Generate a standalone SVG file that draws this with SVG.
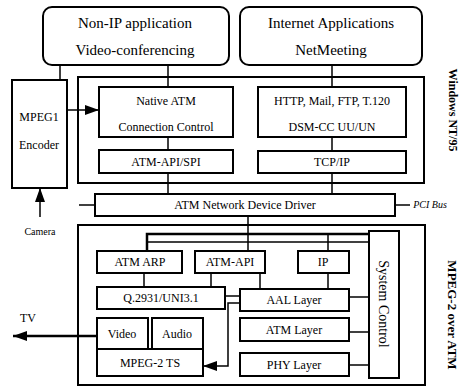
<svg xmlns="http://www.w3.org/2000/svg" width="463" height="388" viewBox="0 0 463 388">
<defs>
<style>
.box{fill:#fff;stroke:#000;stroke-width:2}
.cont{fill:none;stroke:#000;stroke-width:2}
.ln{fill:none;stroke:#000;stroke-width:1.5}
.thk{fill:none;stroke:#000;stroke-width:2.5}
text{fill:#000;text-anchor:middle}
.big{font-size:15px}
.mid{font-size:12px}
.sm{font-size:10px}
</style>
<marker id="ah" viewBox="0 0 14 10" refX="14" refY="5" markerWidth="14" markerHeight="10" markerUnits="userSpaceOnUse" orient="auto">
<path d="M0,0 L14,5 L0,10 z" fill="#000"/>
</marker>
</defs>
<rect width="463" height="388" fill="#fff"/>
<g font-family="'Liberation Serif', 'DejaVu Serif', serif">

<g id="connectors">
<path class="ln" d="M60,65 V80"/>
<path class="ln" d="M168,65 V87"/>
<path class="ln" d="M332,65 V87"/>
<path class="ln" d="M168,137 V150"/>
<path class="ln" d="M332,137 V151"/>
<path class="ln" d="M168,173 V194"/>
<path class="ln" d="M332,173 V194"/>
<path class="ln" d="M67,110 H99" marker-end="url(#ah)"/>
<path class="ln" d="M40,217 V188" marker-end="url(#ah)"/>
<path class="ln" d="M79,205 H95"/>
<path class="ln" d="M395,205 H410"/>
<path class="ln" d="M248,216 V251"/>
<path class="thk" d="M147,251 V234 H369"/>
<path class="ln" d="M147,242 H369"/>
<path class="ln" d="M328,234 V251"/>
<path class="ln" d="M144,273 V287"/>
<path class="ln" d="M211,273 V287"/>
<path class="ln" d="M260,273 V289"/>
<path class="ln" d="M328,273 V289"/>
<path class="ln" d="M225,296 H240"/>
<path class="ln" d="M349,297 H369"/>
<path class="ln" d="M349,332 H369"/>
<path class="ln" d="M349,365 H369"/>
<path class="ln" d="M240,303 H228 V366 H203" marker-end="url(#ah)"/>
<path class="thk" d="M96,336 H13" marker-end="url(#ah)"/>
</g>

<g id="windows-nt">
<rect class="cont" x="78" y="77" width="346" height="106"/>
<text class="mid" transform="translate(449,110) rotate(90)" font-weight="bold">Windows NT/95</text>
</g>

<g id="mpeg2-over-atm">
<rect class="cont" x="78" y="225" width="347" height="160"/>
<text transform="translate(448,315) rotate(90)" font-size="13" font-weight="bold">MPEG-2 over ATM</text>
</g>

<g id="non-ip-app">
<rect class="box" x="43" y="7" width="186" height="58" rx="9"/>
<text class="big" x="135" y="28">Non-IP application</text>
<text class="big" x="135" y="55">Video-conferencing</text>
</g>

<g id="internet-app">
<rect class="box" x="240" y="7" width="182" height="58" rx="9"/>
<text class="big" x="331" y="28">Internet Applications</text>
<text class="big" x="331" y="55">NetMeeting</text>
</g>

<g id="mpeg1-encoder">
<rect class="box" x="12" y="80" width="55" height="108"/>
<text class="mid" x="39" y="121">MPEG1</text>
<text class="mid" x="39" y="149">Encoder</text>
</g>

<g id="camera">
<text class="sm" x="40" y="235">Camera</text>
</g>

<g id="native-atm">
<rect class="box" x="99" y="87" width="134" height="50"/>
<text class="mid" x="166" y="105">Native ATM</text>
<text class="mid" x="166" y="131">Connection Control</text>
</g>

<g id="atm-api-spi">
<rect class="box" x="99" y="150" width="134" height="23"/>
<text class="mid" x="166" y="166">ATM-API/SPI</text>
</g>

<g id="http">
<rect class="box" x="258" y="87" width="148" height="50"/>
<text class="mid" x="332" y="105">HTTP, Mail, FTP, T.120</text>
<text class="mid" x="332" y="131">DSM-CC UU/UN</text>
</g>

<g id="tcpip">
<rect class="box" x="258" y="151" width="148" height="22"/>
<text class="mid" x="332" y="166">TCP/IP</text>
</g>

<g id="driver">
<rect class="box" x="95" y="194" width="300" height="22"/>
<text class="mid" x="245" y="209">ATM Network Device Driver</text>
<text class="sm" x="430" y="208" font-style="italic">PCI Bus</text>
</g>

<g id="system-control">
<rect class="box" x="369" y="231" width="30" height="147"/>
<text transform="translate(379,304) rotate(90)" font-size="14">System Control</text>
</g>

<g id="atm-arp">
<rect class="box" x="97" y="251" width="85" height="22"/>
<text class="mid" x="140" y="266">ATM ARP</text>
</g>

<g id="atm-api">
<rect class="box" x="195" y="251" width="70" height="22"/>
<text class="mid" x="230" y="266">ATM-API</text>
</g>

<g id="ip">
<rect class="box" x="298" y="251" width="51" height="22"/>
<text class="mid" x="323" y="266">IP</text>
</g>

<g id="q2931">
<rect class="box" x="97" y="287" width="128" height="22"/>
<text class="mid" x="161" y="302">Q.2931/UNI3.1</text>
</g>

<g id="aal">
<rect class="box" x="240" y="289" width="109" height="22"/>
<text class="mid" x="294" y="304">AAL Layer</text>
</g>

<g id="atm-layer">
<rect class="box" x="240" y="318" width="109" height="23"/>
<text class="mid" x="294" y="334">ATM Layer</text>
</g>

<g id="phy">
<rect class="box" x="240" y="353" width="109" height="23"/>
<text class="mid" x="294" y="369">PHY Layer</text>
</g>

<g id="video">
<rect class="box" x="97" y="318" width="51" height="31"/>
<text class="mid" x="122" y="338">Video</text>
</g>

<g id="audio">
<rect class="box" x="152" y="318" width="51" height="31"/>
<text class="mid" x="177" y="338">Audio</text>
</g>

<g id="mpeg2-ts">
<rect class="box" x="97" y="349" width="106" height="27"/>
<text class="mid" x="150" y="367">MPEG-2 TS</text>
</g>

<g id="tv">
<text class="mid" x="28" y="322">TV</text>
</g>
</g>
</svg>
